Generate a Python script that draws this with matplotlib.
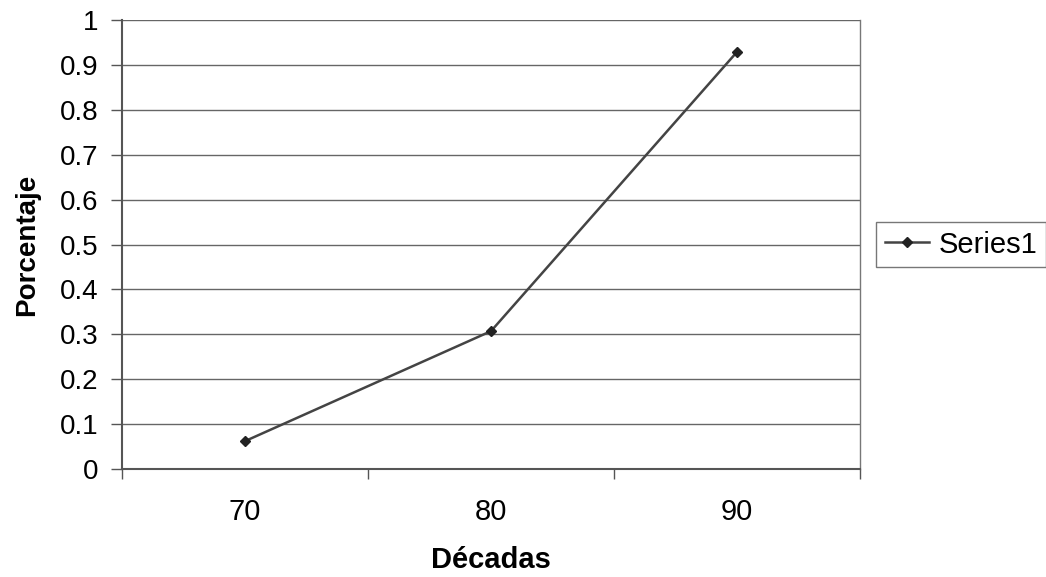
import numpy as np
import matplotlib
matplotlib.use("Agg")
import matplotlib.pyplot as plt

plt.rcParams['font.family'] = ['Liberation Sans', 'DejaVu Sans']

# data
decadas = ["70", "80", "90"]
porcentaje = [0.062, 0.307, 0.929]
yticks = [0, 0.1, 0.2, 0.3, 0.4, 0.5, 0.6, 0.7, 0.8, 0.9, 1]
ytick_labels = ["0", "0.1", "0.2", "0.3", "0.4", "0.5", "0.6", "0.7", "0.8", "0.9", "1"]

fig = plt.figure(figsize=(10.46, 5.77), dpi=100)
ax = fig.add_axes([0.1166, 0.1872, 0.7056, 0.7781])

x = np.arange(len(decadas))
ax.plot(x, porcentaje, color="#444444", linewidth=1.8, marker="D",
        markersize=5, markerfacecolor="#222222", markeredgecolor="#222222",
        label="Series1")

ax.set_xlim(-0.5, len(decadas) - 0.5)
ax.set_ylim(0, 1)
ax.set_yticks(yticks)
ax.set_yticklabels(ytick_labels)
ax.set_xticks(x)
ax.set_xticklabels(decadas)
ax.set_xticks(np.arange(-0.5, len(decadas)), minor=True)
ax.tick_params(axis="x", which="major", length=0, pad=21, labelsize=21)
ax.tick_params(axis="x", which="minor", length=7, color="#555555", width=1)
ax.tick_params(axis="y", length=8, color="#555555", width=1, labelsize=20, pad=9)

ax.grid(axis="y", color="#666666", linewidth=1)
for s in ["left", "bottom"]:
    ax.spines[s].set_color("#555555")
    ax.spines[s].set_linewidth(1.5)
ax.spines["top"].set_visible(False)
ax.spines["right"].set_color("#777777")
ax.spines["right"].set_linewidth(1)

ax.set_xlabel("Décadas", fontsize=21, fontweight="bold", labelpad=14)
ax.set_ylabel("Porcentaje", fontsize=20, fontweight="bold", labelpad=14)

leg = ax.legend(loc="center left", bbox_to_anchor=(1.022, 0.5), fontsize=21,
                frameon=True, fancybox=False, edgecolor="#555555",
                handlelength=1.5, borderpad=0.3, handletextpad=0.35,
                borderaxespad=0)
leg.get_frame().set_linewidth(1)

fig.savefig("out.png", dpi=100)
